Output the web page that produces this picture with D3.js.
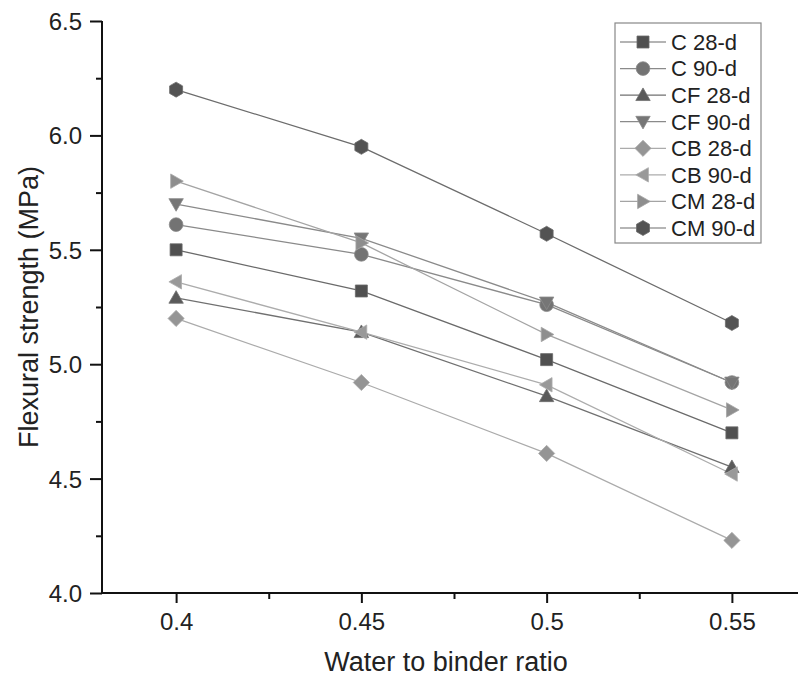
<!DOCTYPE html>
<html>
<head>
<meta charset="utf-8">
<script src="https://cdn.jsdelivr.net/npm/d3@7"></script>
<style>
  body { margin: 0; background: #fff; }
  svg { display: block; font-family: "Liberation Sans", Arial, sans-serif; }
</style>
</head>
<body>
<svg></svg>
<script>
const size = {w: 798, h: 678};
const svg = d3.select('svg').attr('width', size.w).attr('height', size.h);

// data
const ratios = [0.4, 0.45, 0.5, 0.55];
const seriesNames = ['C 28-d', 'C 90-d', 'CF 28-d', 'CF 90-d', 'CB 28-d', 'CB 90-d', 'CM 28-d', 'CM 90-d'];
const c28 = [5.50, 5.32, 5.02, 4.70];
const c90 = [5.61, 5.48, 5.26, 4.92];
const cf28 = [5.29, 5.14, 4.86, 4.55];
const cf90 = [5.70, 5.55, 5.27, 4.92];
const cb28 = [5.20, 4.92, 4.61, 4.23];
const cb90 = [5.36, 5.14, 4.91, 4.52];
const cm28 = [5.80, 5.53, 5.13, 4.80];
const cm90 = [6.20, 5.95, 5.57, 5.18];
const yTicks = [4.0, 4.5, 5.0, 5.5, 6.0, 6.5];

const values = [c28, c90, cf28, cf90, cb28, cb90, cm28, cm90];
const markers = ['square', 'circle', 'up', 'down', 'diamond', 'left', 'right', 'hex'];
const fills = ['#505050', '#737373', '#5a5a5a', '#767676', '#959595', '#999999', '#8e8e8e', '#535353'];
const strokes = ['#6a6a6a', '#8a8a8a', '#707070', '#8a8a8a', '#ababab', '#acacac', '#a4a4a4', '#6c6c6c'];

const x = d3.scaleLinear().domain([0.38, 0.57]).range([102, 806]);
const y = d3.scaleLinear().domain([4.0, 6.5]).range([593, 21]);

// marker shapes, drawn around the origin
function markerPath(type, r) {
    switch (type) {
        case 'square': return `M${-r},${-r}H${r}V${r}H${-r}Z`;
        case 'circle': return d3.symbol(d3.symbolCircle, Math.PI * r * r * 1.3)();
        case 'up': return `M0,${-r * 1.2}L${r * 1.2},${r * 0.9}L${-r * 1.2},${r * 0.9}Z`;
        case 'down': return `M0,${r * 1.2}L${r * 1.2},${-r * 0.9}L${-r * 1.2},${-r * 0.9}Z`;
        case 'left': return `M${-r * 1.2},0L${r * 0.9},${-r * 1.2}L${r * 0.9},${r * 1.2}Z`;
        case 'right': return `M${r * 1.2},0L${-r * 0.9},${-r * 1.2}L${-r * 0.9},${r * 1.2}Z`;
        case 'diamond': return `M0,${-r * 1.35}L${r * 1.35},0L0,${r * 1.35}L${-r * 1.35},0Z`;
        case 'hex': {
            const R = r * 1.25;
            const pts = d3.range(6).map(i => {
                const a = Math.PI / 6 + i * Math.PI / 3;
                return [R * Math.cos(a), R * Math.sin(a)];
            });
            return 'M' + pts.join('L') + 'Z';
        }
    }
}

// axes
const xAxis = d3.axisBottom(x).tickValues(ratios).tickSize(10).tickFormat(d => d3.format('')(d));
const xMinor = d3.axisBottom(x).tickValues([0.425, 0.475, 0.525]).tickSize(6).tickFormat('');
const yAxis = d3.axisLeft(y).tickValues(yTicks).tickSize(12).tickFormat(d3.format('.1f'));
const yMinor = d3.axisLeft(y).tickValues([4.25, 4.75, 5.25, 5.75, 6.25]).tickSize(6).tickFormat('');

const gx = svg.append('g').attr('transform', `translate(0,${y(4.0)})`).call(xAxis);
svg.append('g').attr('transform', `translate(0,${y(4.0)})`).call(xMinor).select('.domain').remove();
const gy = svg.append('g').attr('transform', `translate(${x(0.38)},0)`).call(yAxis);
svg.append('g').attr('transform', `translate(${x(0.38)},0)`).call(yMinor).select('.domain').remove();

svg.selectAll('.domain').style('stroke', '#111').style('stroke-width', '2px');
svg.selectAll('.tick line').style('stroke', '#111').style('stroke-width', '2px');
gx.selectAll('.domain').attr('d', `M${x(0.38)},0H${size.w}`);
gy.selectAll('.domain').attr('d', `M0,${y(6.5)}V${y(4.0) + 1}`);
gx.selectAll('.tick text')
    .style('font-size', '24px').style('fill', '#222')
    .attr('y', 20).attr('dy', '0.71em');
gy.selectAll('.tick text')
    .style('font-size', '24px').style('fill', '#222')
    .attr('dy', '0.35em').attr('x', -20);

// axis titles
svg.append('text')
    .attr('x', 446).attr('y', 671)
    .attr('text-anchor', 'middle')
    .style('font-size', '27px').style('fill', '#222')
    .text('Water to binder ratio');
svg.append('text')
    .attr('transform', 'translate(38,307) rotate(-90)')
    .attr('text-anchor', 'middle')
    .style('font-size', '27px').style('fill', '#222')
    .text('Flexural strength (MPa)');

// series
const line = d3.line().x((d, i) => x(ratios[i])).y(d => y(d));
const plotG = svg.append('g');
values.forEach((vals, s) => {
    plotG.append('path')
        .attr('d', line(vals))
        .attr('fill', 'none')
        .attr('stroke', strokes[s])
        .attr('stroke-width', 1.3);
});
values.forEach((vals, s) => {
    plotG.selectAll(null)
        .data(vals)
        .join('path')
        .attr('transform', (d, i) => `translate(${x(ratios[i])},${y(d)})`)
        .attr('d', markerPath(markers[s], 6))
        .attr('fill', fills[s])
        .attr('stroke', strokes[s])
        .attr('stroke-width', 0.8);
});

// legend
const legendG = svg.append('g');
legendG.append('rect')
    .attr('x', 615).attr('y', 23)
    .attr('width', 146).attr('height', 220)
    .attr('fill', '#fff').attr('stroke', '#888').attr('stroke-width', 1.2);
const rowY = d3.scalePoint().domain(seriesNames).range([42, 228]);
seriesNames.forEach((name, s) => {
    const ly = rowY(name);
    legendG.append('line')
        .attr('x1', 620).attr('x2', 666).attr('y1', ly).attr('y2', ly)
        .attr('stroke', strokes[s]).attr('stroke-width', 1.2);
    legendG.append('path')
        .attr('transform', `translate(643,${ly})`)
        .attr('d', markerPath(markers[s], 6))
        .attr('fill', fills[s]).attr('stroke', strokes[s]).attr('stroke-width', 0.8);
    legendG.append('text')
        .attr('x', 671).attr('y', ly).attr('dy', '0.36em')
        .style('font-size', '22px').style('fill', '#222')
        .text(name);
});
</script>
</body>
</html>
